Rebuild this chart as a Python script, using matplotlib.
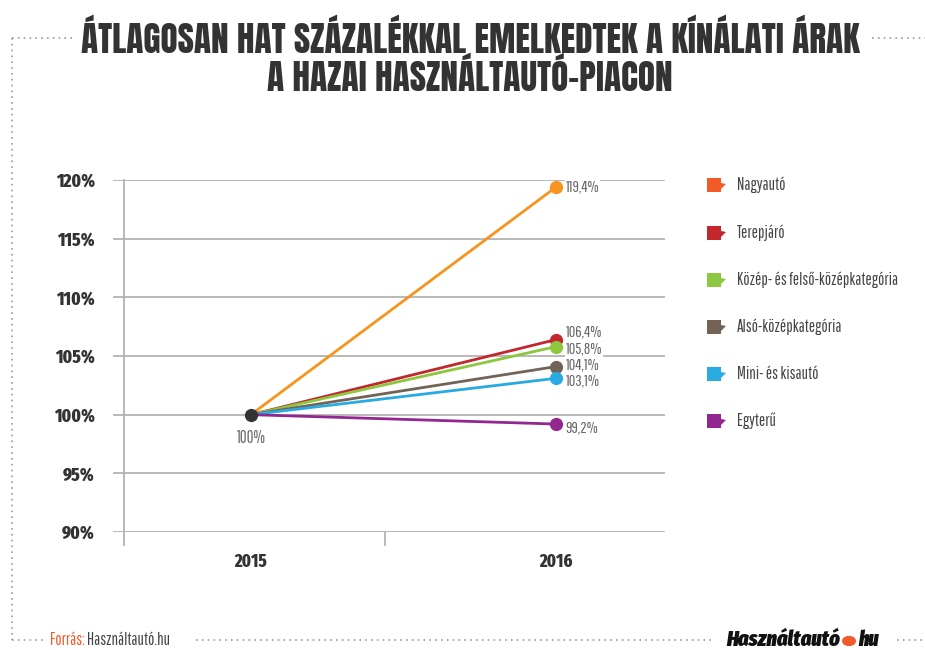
import matplotlib.pyplot as plt
from matplotlib import font_manager
from matplotlib.patches import Polygon, Circle

# Data
years = ["2015", "2016"]
categories = ["Nagyautó", "Terepjáró", "Közép- és felső-középkategória",
              "Alsó-középkategória", "Mini- és kisautó", "Egyterű"]
values_2015 = [100, 100, 100, 100, 100, 100]
values_2016 = [119.4, 106.4, 105.8, 104.1, 103.1, 99.2]
line_colors = ["#f7941d", "#c1272d", "#8dc63f", "#736357", "#29abe2", "#92278f"]
legend_colors = ["#f15a29", "#c1272d", "#8dc63f", "#736357", "#29abe2", "#92278f"]
y_ticks = [90, 95, 100, 105, 110, 115, 120]
# vertical nudges (points) for the end labels so they do not overlap
label_nudge = [0, 5.5, -1.5, 1.5, -1.5, -2.5]

names = {f.name for f in font_manager.fontManager.ttflist}


def pick(*cands):
    return [c for c in cands if c in names] + ["DejaVu Sans"]


title_font = pick("Anton", "League Gothic", "Oswald")
bold_font = pick("Fira Sans Extra Condensed", "Roboto Condensed", "Barlow Condensed")
light_font = pick("Pathway Gothic One", "Fira Sans Extra Condensed", "Roboto Condensed")

fig = plt.figure(figsize=(9.25, 6.5), dpi=100)
W, H = 925, 650


def fx(px):
    return px / W


def fy(py):
    return 1 - py / H


# Title (one text, two lines), sized so the first line spans about 780 px
title = fig.text(0.508, fy(57),
                 "ÁTLAGOSAN HAT SZÁZALÉKKAL EMELKEDTEK A KÍNÁLATI ÁRAK\n"
                 "A HAZAI HASZNÁLTAUTÓ-PIACON",
                 ha="center", va="center", multialignment="center",
                 fontsize=24, family=title_font, color="#333333",
                 linespacing=1.0)
r = fig.canvas.get_renderer()
scale = 780 / title.get_window_extent(r).width
title.set_fontsize(24 * scale)

# Dotted frame
dot = dict(color="#999999", lw=1.2, ls=(0, (1, 2.5)), transform=fig.transFigure)
fig.add_artist(plt.Line2D([fx(12), fx(74)], [fy(38), fy(38)], **dot))
fig.add_artist(plt.Line2D([fx(872), fx(925)], [fy(38), fy(38)], **dot))
fig.add_artist(plt.Line2D([fx(12), fx(12)], [fy(38), fy(640)], **dot))
fig.add_artist(plt.Line2D([fx(12), fx(45)], [fy(640), fy(640)], **dot))
fig.add_artist(plt.Line2D([fx(196), fx(715)], [fy(640), fy(640)], **dot))
fig.add_artist(plt.Line2D([fx(897), fx(925)], [fy(640), fy(640)], **dot))

# Footer
src = fig.text(fx(50), fy(640), "Forrás:", ha="left", va="center", fontsize=12,
               family=light_font, color="#f15a29")
src_w = src.get_window_extent(r).width
fig.text(fx(50 + src_w + 2), fy(640), "Használtautó.hu", ha="left", va="center",
         fontsize=12, family=light_font, color="#444444")
fig.text(fx(840), fy(640), "Használtautó", ha="right", va="center", fontsize=16,
         family=bold_font, fontweight=900, fontstyle="italic", color="#111111")
fig.add_artist(Circle((fx(849), fy(641)), 0.0068, transform=fig.transFigure,
                      color="#f15a29"))
fig.text(fx(858), fy(640), "hu", ha="left", va="center", fontsize=16,
         family=bold_font, fontweight=900, fontstyle="italic", color="#111111")

# Main axes
ax = fig.add_axes([fx(113), fy(532), fx(665 - 113), fy(180) - fy(532)])
ax.set_xlim(-0.452, 1.357)
ax.set_ylim(90, 120)
for s in ax.spines.values():
    s.set_visible(False)
for y in y_ticks:
    ax.axhline(y, color="#b3b3b3", lw=1.3, zorder=0)
ax.plot([-0.416, -0.416], [90 - 1.1, 120], color="#b3b3b3", lw=1.3,
        clip_on=False, zorder=0)
ax.plot([0.44, 0.44], [90 - 1.1, 90], color="#b3b3b3", lw=1.3,
        clip_on=False, zorder=0)

ax.set_yticks(y_ticks)
ax.set_yticklabels([f"{t}%" for t in y_ticks])
ax.set_xticks([0, 1])
ax.set_xticklabels(years)
ax.tick_params(length=0)
ax.tick_params(axis="y", pad=13)
ax.tick_params(axis="x", pad=15)
for lab in ax.get_yticklabels():
    lab.set_fontfamily(bold_font)
    lab.set_fontweight(800)
    lab.set_fontsize(13.5)
    lab.set_color("#333333")
for lab in ax.get_xticklabels():
    lab.set_fontfamily(bold_font)
    lab.set_fontweight(800)
    lab.set_fontsize(13)
    lab.set_color("#333333")

for v0, v1, c, nudge in zip(values_2015, values_2016, line_colors, label_nudge):
    ax.plot([0, 1], [v0, v1], color=c, lw=2, zorder=2, solid_capstyle="butt")
    ax.plot(1, v1, "o", color=c, ms=8.5, zorder=3)
    ax.annotate(f"{v1:.1f}%".replace(".", ","), (1, v1),
                xytext=(7, nudge), textcoords="offset points",
                ha="left", va="center", fontsize=11.5, family=light_font,
                color="#666666", zorder=4,
                bbox=dict(boxstyle="square,pad=0.05", fc="white", ec="none"))

ax.plot(0, 100, "o", color="#333333", ms=8.5, zorder=5)
ax.annotate("100%", (0, 100), xytext=(0, -17), textcoords="offset points",
            ha="center", va="center", fontsize=12, family=light_font,
            color="#666666")

# Legend with speech-bubble squares
rows = [185, 233, 280, 327, 374, 421]
for name, c, ry in zip(categories, legend_colors, rows):
    x0, x1 = 707, 721
    pts = [(x0, ry - 7), (x1, ry - 7), (x1, ry - 2), (x1 + 5, ry - 1),
           (x1, ry + 4), (x1, ry + 7), (x0, ry + 7)]
    fig.add_artist(Polygon([(fx(px), fy(py)) for px, py in pts],
                           closed=True, transform=fig.transFigure,
                           fc=c, ec="none"))
    fig.text(fx(737), fy(ry), name, ha="left", va="center", fontsize=12,
             family=light_font, color="#444444")

fig.savefig("out.png", dpi=100, facecolor="white")
